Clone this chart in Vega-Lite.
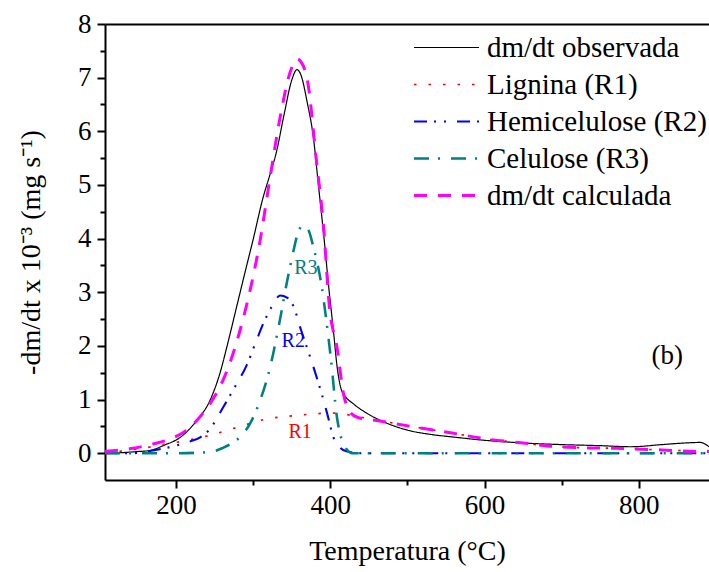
{
  "$schema": "https://vega.github.io/schema/vega-lite/v6.json",
  "width": 604,
  "height": 456,
  "autosize": {"type": "none"},
  "padding": {"left": 105, "top": 24, "right": 0, "bottom": 92},
  "background": "white",
  "config": {
    "view": {"stroke": null},
    "font": "Liberation Serif",
    "axis": {
      "labelFont": "Liberation Serif",
      "titleFont": "Liberation Serif",
      "labelFontSize": 27,
      "titleFontSize": 28,
      "titleFontWeight": "normal",
      "labelColor": "black",
      "titleColor": "black",
      "domainColor": "black",
      "domainWidth": 2,
      "tickColor": "black",
      "tickWidth": 2,
      "tickSize": 8,
      "grid": false
    },
    "legend": {
      "labelFont": "Liberation Serif",
      "labelFontSize": 29,
      "labelColor": "black",
      "labelLimit": 0
    }
  },
  "datasets": {
    "curves": [
      {"serie": "dm/dt observada", "T": 108, "v": 0.0},
      {"serie": "dm/dt observada", "T": 130, "v": 0.01},
      {"serie": "dm/dt observada", "T": 150, "v": 0.03},
      {"serie": "dm/dt observada", "T": 166, "v": 0.05},
      {"serie": "dm/dt observada", "T": 185, "v": 0.15},
      {"serie": "dm/dt observada", "T": 205, "v": 0.29},
      {"serie": "dm/dt observada", "T": 227, "v": 0.61},
      {"serie": "dm/dt observada", "T": 244, "v": 0.98},
      {"serie": "dm/dt observada", "T": 257, "v": 1.49},
      {"serie": "dm/dt observada", "T": 267, "v": 2.04},
      {"serie": "dm/dt observada", "T": 279, "v": 2.75},
      {"serie": "dm/dt observada", "T": 290, "v": 3.4},
      {"serie": "dm/dt observada", "T": 300, "v": 3.98},
      {"serie": "dm/dt observada", "T": 313, "v": 4.77},
      {"serie": "dm/dt observada", "T": 322, "v": 5.2},
      {"serie": "dm/dt observada", "T": 330, "v": 5.6},
      {"serie": "dm/dt observada", "T": 340, "v": 6.3},
      {"serie": "dm/dt observada", "T": 350, "v": 6.95},
      {"serie": "dm/dt observada", "T": 357, "v": 7.15},
      {"serie": "dm/dt observada", "T": 362, "v": 7.05},
      {"serie": "dm/dt observada", "T": 370, "v": 6.55},
      {"serie": "dm/dt observada", "T": 378, "v": 5.9},
      {"serie": "dm/dt observada", "T": 385, "v": 4.95},
      {"serie": "dm/dt observada", "T": 392, "v": 4.0},
      {"serie": "dm/dt observada", "T": 398, "v": 3.1},
      {"serie": "dm/dt observada", "T": 404, "v": 2.3},
      {"serie": "dm/dt observada", "T": 409, "v": 1.6},
      {"serie": "dm/dt observada", "T": 414, "v": 1.2},
      {"serie": "dm/dt observada", "T": 420, "v": 1.05},
      {"serie": "dm/dt observada", "T": 430, "v": 0.92},
      {"serie": "dm/dt observada", "T": 448, "v": 0.74},
      {"serie": "dm/dt observada", "T": 470, "v": 0.58},
      {"serie": "dm/dt observada", "T": 500, "v": 0.43},
      {"serie": "dm/dt observada", "T": 530, "v": 0.35},
      {"serie": "dm/dt observada", "T": 560, "v": 0.3},
      {"serie": "dm/dt observada", "T": 600, "v": 0.24},
      {"serie": "dm/dt observada", "T": 650, "v": 0.19},
      {"serie": "dm/dt observada", "T": 700, "v": 0.16},
      {"serie": "dm/dt observada", "T": 750, "v": 0.14},
      {"serie": "dm/dt observada", "T": 790, "v": 0.12},
      {"serie": "dm/dt observada", "T": 830, "v": 0.16},
      {"serie": "dm/dt observada", "T": 860, "v": 0.19},
      {"serie": "dm/dt observada", "T": 880, "v": 0.2},
      {"serie": "dm/dt observada", "T": 891, "v": 0.12},

      {"serie": "Lignina (R1)", "T": 108, "v": 0.01},
      {"serie": "Lignina (R1)", "T": 130, "v": 0.04},
      {"serie": "Lignina (R1)", "T": 160, "v": 0.1},
      {"serie": "Lignina (R1)", "T": 192, "v": 0.18},
      {"serie": "Lignina (R1)", "T": 215, "v": 0.24},
      {"serie": "Lignina (R1)", "T": 235, "v": 0.3},
      {"serie": "Lignina (R1)", "T": 253, "v": 0.37},
      {"serie": "Lignina (R1)", "T": 279, "v": 0.48},
      {"serie": "Lignina (R1)", "T": 300, "v": 0.57},
      {"serie": "Lignina (R1)", "T": 318, "v": 0.64},
      {"serie": "Lignina (R1)", "T": 340, "v": 0.68},
      {"serie": "Lignina (R1)", "T": 361, "v": 0.71},
      {"serie": "Lignina (R1)", "T": 378, "v": 0.73},
      {"serie": "Lignina (R1)", "T": 400, "v": 0.75},
      {"serie": "Lignina (R1)", "T": 421, "v": 0.72},
      {"serie": "Lignina (R1)", "T": 440, "v": 0.67},
      {"serie": "Lignina (R1)", "T": 461, "v": 0.61},
      {"serie": "Lignina (R1)", "T": 482, "v": 0.56},
      {"serie": "Lignina (R1)", "T": 513, "v": 0.48},
      {"serie": "Lignina (R1)", "T": 560, "v": 0.37},
      {"serie": "Lignina (R1)", "T": 600, "v": 0.27},
      {"serie": "Lignina (R1)", "T": 650, "v": 0.19},
      {"serie": "Lignina (R1)", "T": 685, "v": 0.13},
      {"serie": "Lignina (R1)", "T": 730, "v": 0.1},
      {"serie": "Lignina (R1)", "T": 772, "v": 0.09},
      {"serie": "Lignina (R1)", "T": 830, "v": 0.06},
      {"serie": "Lignina (R1)", "T": 891, "v": 0.03},

      {"serie": "Hemicelulose (R2)", "T": 108, "v": 0.0},
      {"serie": "Hemicelulose (R2)", "T": 144, "v": 0.0},
      {"serie": "Hemicelulose (R2)", "T": 170, "v": 0.05},
      {"serie": "Hemicelulose (R2)", "T": 188, "v": 0.1},
      {"serie": "Hemicelulose (R2)", "T": 214, "v": 0.2},
      {"serie": "Hemicelulose (R2)", "T": 232, "v": 0.3},
      {"serie": "Hemicelulose (R2)", "T": 244, "v": 0.45},
      {"serie": "Hemicelulose (R2)", "T": 261, "v": 0.85},
      {"serie": "Hemicelulose (R2)", "T": 275, "v": 1.2},
      {"serie": "Hemicelulose (R2)", "T": 292, "v": 1.65},
      {"serie": "Hemicelulose (R2)", "T": 303, "v": 2.05},
      {"serie": "Hemicelulose (R2)", "T": 313, "v": 2.41},
      {"serie": "Hemicelulose (R2)", "T": 325, "v": 2.75},
      {"serie": "Hemicelulose (R2)", "T": 335, "v": 2.94},
      {"serie": "Hemicelulose (R2)", "T": 344, "v": 2.9},
      {"serie": "Hemicelulose (R2)", "T": 352, "v": 2.75},
      {"serie": "Hemicelulose (R2)", "T": 362, "v": 2.3},
      {"serie": "Hemicelulose (R2)", "T": 374, "v": 1.79},
      {"serie": "Hemicelulose (R2)", "T": 387, "v": 1.2},
      {"serie": "Hemicelulose (R2)", "T": 396, "v": 0.74},
      {"serie": "Hemicelulose (R2)", "T": 404, "v": 0.3},
      {"serie": "Hemicelulose (R2)", "T": 413, "v": 0.1},
      {"serie": "Hemicelulose (R2)", "T": 422, "v": 0.03},
      {"serie": "Hemicelulose (R2)", "T": 440, "v": 0.0},
      {"serie": "Hemicelulose (R2)", "T": 891, "v": 0.0},

      {"serie": "Celulose (R3)", "T": 108, "v": 0.0},
      {"serie": "Celulose (R3)", "T": 200, "v": 0.0},
      {"serie": "Celulose (R3)", "T": 231, "v": 0.01},
      {"serie": "Celulose (R3)", "T": 250, "v": 0.04},
      {"serie": "Celulose (R3)", "T": 261, "v": 0.1},
      {"serie": "Celulose (R3)", "T": 272, "v": 0.18},
      {"serie": "Celulose (R3)", "T": 283, "v": 0.3},
      {"serie": "Celulose (R3)", "T": 296, "v": 0.55},
      {"serie": "Celulose (R3)", "T": 309, "v": 0.98},
      {"serie": "Celulose (R3)", "T": 322, "v": 1.6},
      {"serie": "Celulose (R3)", "T": 335, "v": 2.5},
      {"serie": "Celulose (R3)", "T": 344, "v": 3.2},
      {"serie": "Celulose (R3)", "T": 352, "v": 3.75},
      {"serie": "Celulose (R3)", "T": 358, "v": 4.1},
      {"serie": "Celulose (R3)", "T": 365, "v": 4.25},
      {"serie": "Celulose (R3)", "T": 372, "v": 4.15},
      {"serie": "Celulose (R3)", "T": 378, "v": 3.85},
      {"serie": "Celulose (R3)", "T": 389, "v": 3.1},
      {"serie": "Celulose (R3)", "T": 395, "v": 2.47},
      {"serie": "Celulose (R3)", "T": 402, "v": 1.6},
      {"serie": "Celulose (R3)", "T": 408, "v": 0.74},
      {"serie": "Celulose (R3)", "T": 413, "v": 0.35},
      {"serie": "Celulose (R3)", "T": 417, "v": 0.18},
      {"serie": "Celulose (R3)", "T": 422, "v": 0.06},
      {"serie": "Celulose (R3)", "T": 428, "v": 0.0},
      {"serie": "Celulose (R3)", "T": 891, "v": 0.0},

      {"serie": "dm/dt calculada", "T": 108, "v": 0.03},
      {"serie": "dm/dt calculada", "T": 144, "v": 0.09},
      {"serie": "dm/dt calculada", "T": 170, "v": 0.17},
      {"serie": "dm/dt calculada", "T": 188, "v": 0.24},
      {"serie": "dm/dt calculada", "T": 218, "v": 0.48},
      {"serie": "dm/dt calculada", "T": 227, "v": 0.61},
      {"serie": "dm/dt calculada", "T": 244, "v": 0.92},
      {"serie": "dm/dt calculada", "T": 261, "v": 1.36},
      {"serie": "dm/dt calculada", "T": 275, "v": 1.9},
      {"serie": "dm/dt calculada", "T": 287, "v": 2.5},
      {"serie": "dm/dt calculada", "T": 296, "v": 3.03},
      {"serie": "dm/dt calculada", "T": 309, "v": 3.96},
      {"serie": "dm/dt calculada", "T": 322, "v": 5.14},
      {"serie": "dm/dt calculada", "T": 335, "v": 6.26},
      {"serie": "dm/dt calculada", "T": 348, "v": 7.1},
      {"serie": "dm/dt calculada", "T": 357, "v": 7.35},
      {"serie": "dm/dt calculada", "T": 364, "v": 7.25},
      {"serie": "dm/dt calculada", "T": 371, "v": 6.9},
      {"serie": "dm/dt calculada", "T": 382, "v": 5.46},
      {"serie": "dm/dt calculada", "T": 391, "v": 4.28},
      {"serie": "dm/dt calculada", "T": 399, "v": 2.72},
      {"serie": "dm/dt calculada", "T": 409, "v": 1.95},
      {"serie": "dm/dt calculada", "T": 417, "v": 1.12},
      {"serie": "dm/dt calculada", "T": 425, "v": 0.78},
      {"serie": "dm/dt calculada", "T": 435, "v": 0.67},
      {"serie": "dm/dt calculada", "T": 464, "v": 0.6},
      {"serie": "dm/dt calculada", "T": 513, "v": 0.48},
      {"serie": "dm/dt calculada", "T": 560, "v": 0.37},
      {"serie": "dm/dt calculada", "T": 600, "v": 0.27},
      {"serie": "dm/dt calculada", "T": 650, "v": 0.19},
      {"serie": "dm/dt calculada", "T": 685, "v": 0.13},
      {"serie": "dm/dt calculada", "T": 730, "v": 0.1},
      {"serie": "dm/dt calculada", "T": 772, "v": 0.09},
      {"serie": "dm/dt calculada", "T": 830, "v": 0.06},
      {"serie": "dm/dt calculada", "T": 880, "v": 0.03},
      {"serie": "dm/dt calculada", "T": 891, "v": 0.03}
    ]
  },
  "layer": [
    {
      "data": {"name": "curves"},
      "mark": {"type": "line", "interpolate": "monotone", "clip": true},
      "encoding": {
        "x": {
          "field": "T", "type": "quantitative",
          "scale": {"domain": [108, 891], "nice": false, "zero": false},
          "axis": {"values": [200, 400, 600, 800], "title": "Temperatura (°C)", "labelPadding": 4, "titlePadding": 19, "format": "d"}
        },
        "y": {
          "field": "v", "type": "quantitative",
          "scale": {"domain": [-0.5, 8], "nice": false, "zero": false},
          "axis": {"values": [0, 1, 2, 3, 4, 5, 6, 7, 8], "title": "-dm/dt x 10⁻³ (mg s⁻¹)", "labelPadding": 6, "titlePadding": 32, "format": "d"}
        },
        "color": {
          "field": "serie", "type": "nominal",
          "scale": {
            "domain": ["dm/dt observada", "Lignina (R1)", "Hemicelulose (R2)", "Celulose (R3)", "dm/dt calculada"],
            "range": ["#000000", "#FF0000", "#0000FF", "#008080", "#FF00FF"]
          },
          "legend": {
            "title": null, "orient": "none", "legendX": 327, "legendY": 9,
            "symbolType": "M-6.5,0H6.5", "symbolSize": 100, "symbolStrokeWidth": 2.8,
            "labelOffset": 26, "rowPadding": 7, "padding": 0
          }
        },
        "strokeDash": {
          "field": "serie", "type": "nominal",
          "scale": {
            "domain": ["dm/dt observada", "Lignina (R1)", "Hemicelulose (R2)", "Celulose (R3)", "dm/dt calculada"],
            "range": [[1, 0], [2.5, 12], [13, 7, 2, 8, 2, 11], [15, 9, 2, 11], [13, 11]]
          },
          "legend": null
        },
        "strokeWidth": {
          "field": "serie", "type": "nominal",
          "scale": {
            "domain": ["dm/dt observada", "Lignina (R1)", "Hemicelulose (R2)", "Celulose (R3)", "dm/dt calculada"],
            "range": [1.2, 3, 2.8, 2.8, 3]
          },
          "legend": null
        },
        "order": {"field": "T", "type": "quantitative"}
      }
    },
    {
      "data": {"values": [{"T": 200}]},
      "mark": {"type": "rule", "opacity": 0},
      "encoding": {
        "x": {"field": "T", "type": "quantitative", "axis": {"orient": "bottom", "values": [300, 500, 700], "labels": false, "tickSize": 5, "domain": false, "title": null}}
      }
    },
    {
      "data": {"values": [{"T": 200}]},
      "mark": {"type": "rule", "opacity": 0},
      "encoding": {
        "x": {"field": "T", "type": "quantitative", "axis": {"orient": "top", "values": [200, 300, 400, 500, 600, 700, 800], "labels": false, "ticks": false, "domain": true, "title": null}}
      }
    },
    {
      "data": {"values": [{"v": 0}]},
      "mark": {"type": "rule", "opacity": 0},
      "encoding": {
        "y": {"field": "v", "type": "quantitative", "axis": {"orient": "left", "values": [0.5, 1.5, 2.5, 3.5, 4.5, 5.5, 6.5, 7.5], "labels": false, "tickSize": 5, "domain": false, "title": null}}
      }
    },
    {
      "data": {"values": [{"label": "R1", "T": 361, "v": 0.4}]},
      "mark": {"type": "text", "color": "#FF0000", "fontSize": 20, "font": "Liberation Serif", "align": "center", "baseline": "middle"},
      "encoding": {"x": {"field": "T", "type": "quantitative", "axis": null}, "y": {"field": "v", "type": "quantitative", "axis": null}, "text": {"field": "label"}}
    },
    {
      "data": {"values": [{"label": "R2", "T": 352, "v": 2.1}]},
      "mark": {"type": "text", "color": "#0000FF", "fontSize": 20, "font": "Liberation Serif", "align": "center", "baseline": "middle"},
      "encoding": {"x": {"field": "T", "type": "quantitative", "axis": null}, "y": {"field": "v", "type": "quantitative", "axis": null}, "text": {"field": "label"}}
    },
    {
      "data": {"values": [{"label": "R3", "T": 368.5, "v": 3.46}]},
      "mark": {"type": "text", "color": "#008080", "fontSize": 20, "font": "Liberation Serif", "align": "center", "baseline": "middle"},
      "encoding": {"x": {"field": "T", "type": "quantitative", "axis": null}, "y": {"field": "v", "type": "quantitative", "axis": null}, "text": {"field": "label"}}
    },
    {
      "data": {"values": [{"label": "(b)", "T": 837, "v": 1.81}]},
      "mark": {"type": "text", "color": "#000000", "fontSize": 27, "font": "Liberation Serif", "align": "center", "baseline": "middle"},
      "encoding": {"x": {"field": "T", "type": "quantitative", "axis": null}, "y": {"field": "v", "type": "quantitative", "axis": null}, "text": {"field": "label"}}
    }
  ],
  "resolve": {"axis": {"x": "independent", "y": "independent"}}
}
